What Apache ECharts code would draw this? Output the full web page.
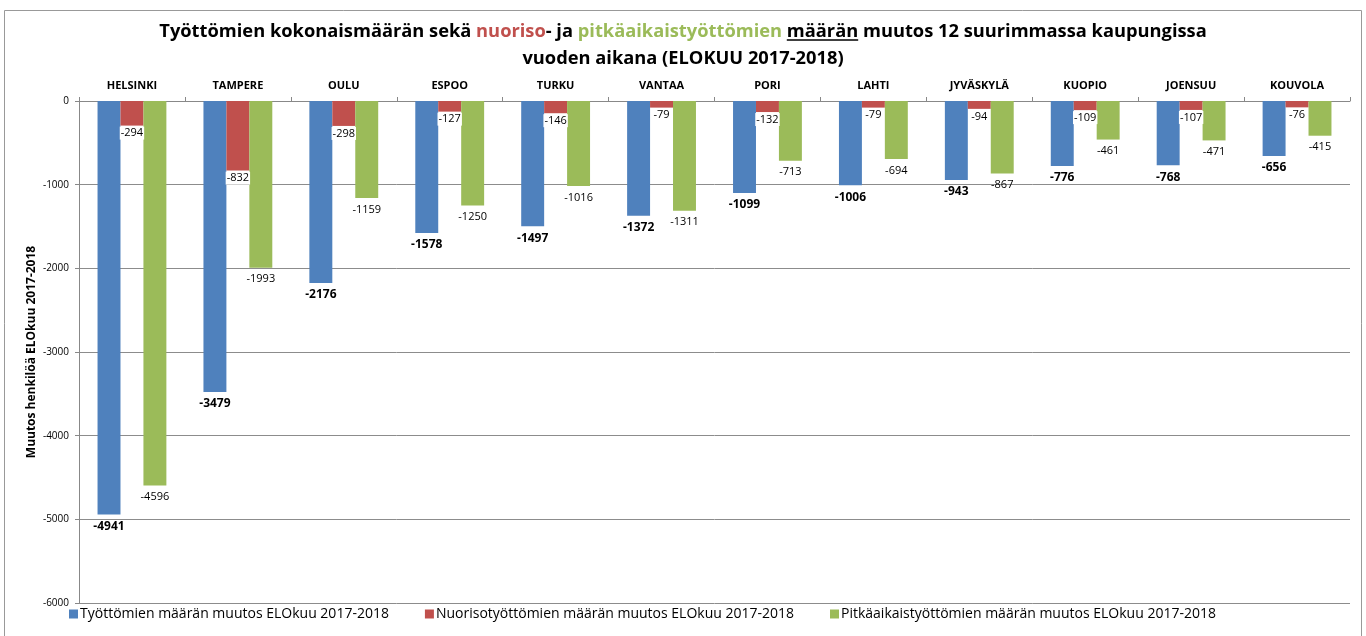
<!DOCTYPE html>
<html>
<head>
<meta charset="utf-8">
<script src="https://cdn.jsdelivr.net/npm/echarts@6/dist/echarts.min.js"></script>
<style>
  html, body { margin: 0; padding: 0; background: #fff; }
  #chart { width: 1366px; height: 636px; }
</style>
</head>
<body>
<div id="chart"></div>
<script>
var cities = ['HELSINKI', 'TAMPERE', 'OULU', 'ESPOO', 'TURKU', 'VANTAA', 'PORI', 'LAHTI', 'JYVÄSKYLÄ', 'KUOPIO', 'JOENSUU', 'KOUVOLA'];
var total = [-4941, -3479, -2176, -1578, -1497, -1372, -1099, -1006, -943, -776, -768, -656];
var youth = [-294, -832, -298, -127, -146, -79, -132, -79, -94, -109, -107, -76];
var longTerm = [-4596, -1993, -1159, -1250, -1016, -1311, -713, -694, -867, -461, -471, -415];
var seriesNames = [
  'Työttömien määrän muutos ELOkuu 2017-2018',
  'Nuorisotyöttömien määrän muutos ELOkuu 2017-2018',
  'Pitkäaikaistyöttömien määrän muutos ELOkuu 2017-2018'
];

var font = '"Open Sans", "Noto Sans", sans-serif';
var titleSize = 18.3;
var myChart = echarts.init(document.getElementById('chart'));

// underline for "määrän" in the title
var ctx = document.createElement('canvas').getContext('2d');
ctx.font = 'bold ' + titleSize + 'px ' + font;
var line1 = 'Työttömien kokonaismäärän sekä nuoriso- ja pitkäaikaistyöttömien määrän muutos 12 suurimmassa kaupungissa';
var pre = 'Työttömien kokonaismäärän sekä nuoriso- ja pitkäaikaistyöttömien ';
var ux = 683 - ctx.measureText(line1).width / 2 + ctx.measureText(pre).width;
var uw = ctx.measureText('määrän').width;

var option = {
  color: ['#4F81BD', '#C0504D', '#9BBB59'],
  textStyle: { fontFamily: font },
  animation: false,
  title: {
    text: '{b|Työttömien kokonaismäärän sekä }{r|nuoriso}{b|- ja }{g|pitkäaikaistyöttömien }{b|määrän muutos 12 suurimmassa kaupungissa}\n{b|vuoden aikana (ELOKUU 2017-2018)}',
    left: 'center',
    top: 13,
    textStyle: {
      rich: {
        b: { fontSize: titleSize, fontWeight: 'bold', color: '#000', fontFamily: font, lineHeight: 27 },
        r: { fontSize: titleSize, fontWeight: 'bold', color: '#C0504D', fontFamily: font, lineHeight: 27 },
        g: { fontSize: titleSize, fontWeight: 'bold', color: '#9BBB59', fontFamily: font, lineHeight: 27 }
      }
    }
  },
  legend: {
    bottom: 10,
    left: 64,
    itemWidth: 9,
    itemHeight: 9,
    itemGap: 36,
    icon: 'rect',
    textStyle: { fontSize: 14, color: '#000', fontFamily: font, padding: [0, 0, 0, -3] },
    data: seriesNames
  },
  grid: { left: 79, right: 16, top: 101, bottom: 33, containLabel: false },
  graphic: [
    {
      type: 'rect',
      shape: { x: 4.5, y: 10.5, width: 1357, height: 640 },
      style: { fill: 'none', stroke: '#999', lineWidth: 1 },
      silent: true
    },
    {
      type: 'line',
      shape: { x1: ux, y1: 40, x2: ux + uw, y2: 40 },
      style: { stroke: '#000', lineWidth: 1.5 },
      silent: true
    }
  ],
  xAxis: {
    type: 'category',
    position: 'top',
    data: cities,
    axisLine: { lineStyle: { color: '#888' } },
    axisTick: { show: true, length: 4, lineStyle: { color: '#888' } },
    axisLabel: { fontSize: 11, fontWeight: 'bold', color: '#000', margin: 10, fontFamily: font },
    splitLine: { show: false }
  },
  yAxis: {
    type: 'value',
    min: -6000,
    max: 0,
    interval: 1000,
    name: 'Muutos henkilöä ELOkuu 2017-2018',
    nameLocation: 'middle',
    nameGap: 41,
    nameMoveOverlap: false,
    nameRotate: 90,
    nameTextStyle: { fontSize: 12, fontWeight: 'bold', color: '#000', fontFamily: font },
    axisLine: { show: true, lineStyle: { color: '#888' } },
    axisTick: { show: true, length: 4, lineStyle: { color: '#888' } },
    axisLabel: { fontSize: 10, color: '#000', margin: 10, fontFamily: font, formatter: function(v) { return String(v); } },
    splitLine: { lineStyle: { color: '#8c8c8c', width: 1 } }
  },
  series: [
    {
      name: seriesNames[0],
      type: 'bar',
      data: total,
      barGap: '0%',
      barCategoryGap: '35%',
      label: {
        show: true,
        position: 'bottom',
        distance: 6,
        fontSize: 12,
        fontWeight: 'bold',
        color: '#000',
        fontFamily: font
      }
    },
    {
      name: seriesNames[1],
      type: 'bar',
      data: youth,
      barGap: '0%',
      barCategoryGap: '35%',
      label: {
        show: true,
        position: 'bottom',
        distance: 1,
        fontSize: 11,
        color: '#000',
        backgroundColor: '#fff',
        padding: [1, 1],
        fontFamily: font
      }
    },
    {
      name: seriesNames[2],
      type: 'bar',
      data: longTerm,
      barGap: '0%',
      barCategoryGap: '35%',
      label: {
        show: true,
        position: 'bottom',
        distance: 6,
        fontSize: 11,
        color: '#000',
        fontFamily: font
      }
    }
  ]
};

myChart.setOption(option);
</script>
</body>
</html>
